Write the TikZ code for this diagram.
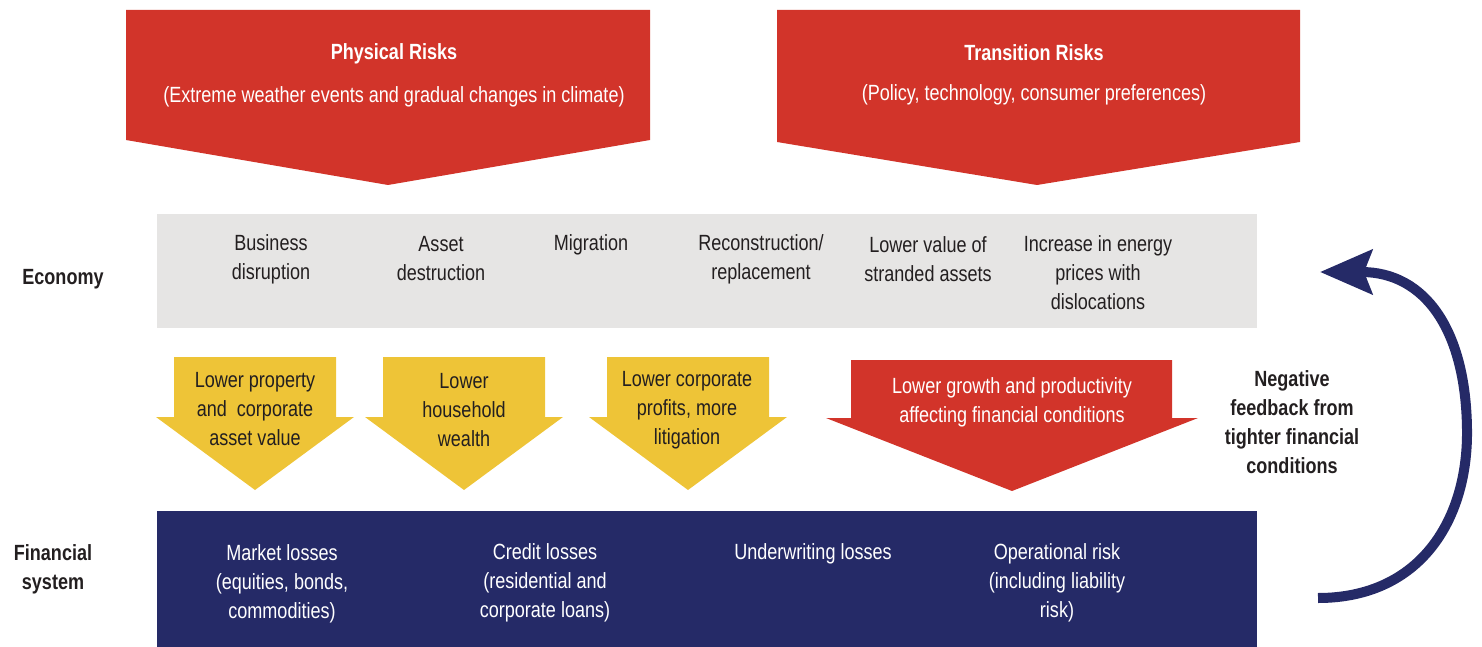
\documentclass[tikz,border=0pt]{standalone}
\usepackage{fontspec}
\setmainfont{Liberation Sans}[FakeStretch=0.82]
\usetikzlibrary{arrows.meta}
\definecolor{rred}{RGB}{210,52,42}
\definecolor{ryel}{RGB}{238,196,55}
\definecolor{rgrey}{RGB}{230,229,228}
\definecolor{rnavy}{RGB}{37,42,103}
\definecolor{rtxt}{RGB}{35,31,32}
\begin{document}
\begin{tikzpicture}[x=1pt,y=-1pt,
  lbl/.style={align=center, inner sep=0pt, text=rtxt, font=\fontsize{22}{29}\selectfont},
  wlbl/.style={lbl, text=white},
  blbl/.style={lbl, font=\fontsize{22}{29}\selectfont\bfseries},
  wblbl/.style={blbl, text=white},
  redshape/.style={fill=rred},
  yelshape/.style={fill=ryel},
  feedback/.style={draw=rnavy, line width=10pt, -{Stealth[length=52pt, width=44pt, inset=8pt]}}]
\useasboundingbox (0,0) rectangle (1482,647);

% top risk arrows
\fill[redshape] (126,10) -- (650,10) -- (650,140) -- (388,185) -- (126,140) -- cycle;
\fill[redshape] (777,10) -- (1300,10) -- (1300,142) -- (1037,185) -- (777,142) -- cycle;
\node[wblbl] (phys) at (394,54) {Physical Risks};
\node[wlbl] (physsub) at (394,97) {(Extreme weather events and gradual changes in climate)};
\node[wblbl] (trans) at (1034,53) {Transition Risks};
\node[wlbl] (transsub) at (1034,95) {(Policy, technology, consumer preferences)};

% economy band
\fill[rgrey] (157,214) rectangle (1257,328);
\node[blbl] (eco) at (63,279) {Economy};
\node[lbl] (e1) at (271,259) {Business\\disruption};
\node[lbl] (e2) at (441,259) {Asset\\destruction};
\node[lbl] (e3) at (591,245) {Migration};
\node[lbl] (e4) at (761,259) {Reconstruction/\\replacement};
\node[lbl] (e5) at (928,259) {Lower value of\\stranded assets};
\node[lbl] (e6) at (1098,273) {Increase in energy\\prices with\\dislocations};

% yellow channel arrows
\fill[yelshape] (174,357) -- (336,357) -- (336,417) -- (354,417) -- (255,490) -- (156,417) -- (174,417) -- cycle;
\fill[yelshape] (383,357) -- (545,357) -- (545,417) -- (563,417) -- (464,490) -- (365,417) -- (383,417) -- cycle;
\fill[yelshape] (607,357) -- (769,357) -- (769,417) -- (787,417) -- (688,490) -- (589,417) -- (607,417) -- cycle;
\node[lbl] (y1) at (255,409) {Lower property\\and\ \ corporate\\asset value};
\node[lbl] (y2) at (464,410) {Lower\\household\\wealth};
\node[lbl] (y3) at (687,410) {Lower corporate\\profits, more\\litigation};

% red channel arrow
\fill[redshape] (851,360) -- (1172,360) -- (1172,418) -- (1198,418) -- (1012,491) -- (826,418) -- (851,418) -- cycle;
\node[wlbl] (r1) at (1012,402) {Lower growth and productivity\\affecting financial conditions};

% feedback
\node[blbl] (neg) at (1292,422) {Negative\\feedback from\\tighter financial\\conditions};
\coordinate (fbs) at (1318,598);
\coordinate (fbe) at (1320,272);
\draw[feedback] (fbs) .. controls (1420,598) and (1468,520) .. (1467,430)
  .. controls (1466,330) and (1425,272) .. (fbe);

% financial system band
\fill[rnavy] (157,511) rectangle (1257,647);
\node[blbl] (fin) at (53,569) {Financial\\system};
\node[wlbl] (f1) at (282,584) {Market losses\\(equities, bonds,\\commodities)};
\node[wlbl] (f2) at (545,583) {Credit losses\\(residential and\\corporate loans)};
\node[wlbl] (f3) at (813,554) {Underwriting losses};
\node[wlbl] (f4) at (1057,583) {Operational risk\\(including liability\\risk)};
\end{tikzpicture}
\end{document}
